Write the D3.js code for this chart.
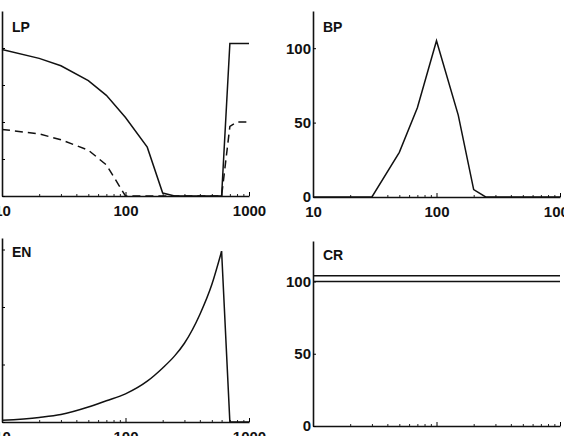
<!DOCTYPE html>
<html>
<head>
<meta charset="utf-8">
<script src="https://cdn.jsdelivr.net/npm/d3@7"></script>
<style>
  body { margin: 0; background: #fff; }
  text { font-family: "Liberation Sans", Arial, sans-serif; font-weight: bold; }
</style>
</head>
<body>
<svg id="chart" width="564" height="436"></svg>
<script>
// x positions (log scale) shared by every panel
const xVals = [10, 20, 30, 50, 70, 100, 150, 200, 250, 300, 400, 500, 600, 700, 800, 900, 1000];

// LP: two curves
const lpSolid  = [99, 93, 88, 78, 68, 53, 33, 2, 0, 0, 0, 0, 0, 103, 103, 103, 103];
const lpDashed = [45, 42, 38, 31, 21, 0, 0, 0, 0, 0, 0, 0, 0, 47, 50, 50, 50];

// BP
const bpVals = [0, 0, 0, 30, 60, 105, 55, 5, 0, 0, 0, 0, 0, 0, 0, 0, 0];

// EN
const enVals = [0.03, 0.08, 0.13, 0.26, 0.37, 0.49, 0.71, 0.94, 1.15, 1.37, 1.87, 2.39, 2.97, 0, 0, 0, 0];
const enPeak = 12; // index of the peak (x = 600)

// CR: two flat lines
const crUpper = [104, 104];
const crLower = [100, 100];
const crX = [10, 1000];

const majorTicks = [10, 100, 1000];
const minorTicks = [20, 30, 40, 50, 60, 70, 80, 90, 200, 300, 400, 500, 600, 700, 800, 900];

const svg = d3.select("#chart");

function panel(opts) {
    const x = d3.scaleLog().domain([10, 1000]).range([opts.left, opts.right]);
    const y = d3.scaleLinear().domain(opts.yDomain).range([opts.bottom, opts.top]);
    const g = svg.append("g");

    // minor x ticks
    g.append("g")
        .attr("transform", `translate(0,${opts.bottom})`)
        .call(d3.axisBottom(x).tickValues(minorTicks).tickSize(-2).tickSizeOuter(0).tickFormat(""))
        .call(a => a.select(".domain").remove())
        .selectAll("line").attr("stroke", "#222");

    // major x ticks + labels
    const xa = g.append("g")
        .attr("transform", `translate(0,${opts.bottom})`)
        .call(d3.axisBottom(x).tickValues(majorTicks).tickSize(-4).tickSizeOuter(0)
            .tickPadding(9).tickFormat(d3.format("d")));
    xa.select(".domain").attr("stroke", "#111").attr("stroke-width", 1.6);
    xa.selectAll("text").attr("font-size", 15).attr("fill", "#111");

    // y axis
    const ya = g.append("g")
        .attr("transform", `translate(${opts.left},0)`)
        .call(d3.axisLeft(y).tickValues(opts.yTicks).tickSize(-3).tickSizeOuter(0).tickPadding(2));
    ya.select(".domain").attr("stroke", "#111").attr("stroke-width", 1.6);
    ya.selectAll("text").attr("font-size", 15).attr("fill", "#111");

    g.append("text")
        .attr("x", opts.left + 10)
        .attr("y", opts.top + opts.labelDy)
        .attr("font-size", 14)
        .attr("fill", "#111")
        .text(opts.title);

    opts.series.forEach(s => {
        const line = d3.line().x(d => x(d[0])).y(d => y(d[1])).curve(s.curve || d3.curveLinear);
        g.append("path")
            .datum(s.xs.map((v, i) => [v, s.ys[i]]))
            .attr("fill", "none")
            .attr("stroke", "#111")
            .attr("stroke-width", 1.5)
            .attr("stroke-linejoin", "miter")
            .attr("stroke-dasharray", s.dash || null)
            .attr("d", line);
    });
}

panel({
    title: "LP", left: 2, right: 249, top: 11, bottom: 196, labelDy: 21,
    yDomain: [0, 125], yTicks: [0, 25, 50, 75, 100],
    series: [
        { xs: xVals, ys: lpSolid },
        { xs: xVals, ys: lpDashed, dash: "8,5" }
    ]
});

panel({
    title: "BP", left: 313, right: 560, top: 11, bottom: 197, labelDy: 21,
    yDomain: [0, 125], yTicks: [0, 50, 100],
    series: [{ xs: xVals, ys: bpVals }]
});

panel({
    title: "EN", left: 2, right: 249, top: 238, bottom: 422, labelDy: 19,
    yDomain: [0, 3.2], yTicks: [0, 1, 2, 3],
    series: [
        // smooth rise up to the peak, then a straight drop
        { xs: xVals.slice(0, enPeak + 1), ys: enVals.slice(0, enPeak + 1), curve: d3.curveMonotoneX },
        { xs: xVals.slice(enPeak), ys: enVals.slice(enPeak) }
    ]
});

panel({
    title: "CR", left: 313, right: 560, top: 241, bottom: 426, labelDy: 19,
    yDomain: [0, 128], yTicks: [0, 50, 100],
    series: [
        { xs: crX, ys: crUpper },
        { xs: crX, ys: crLower }
    ]
});
</script>
</body>
</html>
